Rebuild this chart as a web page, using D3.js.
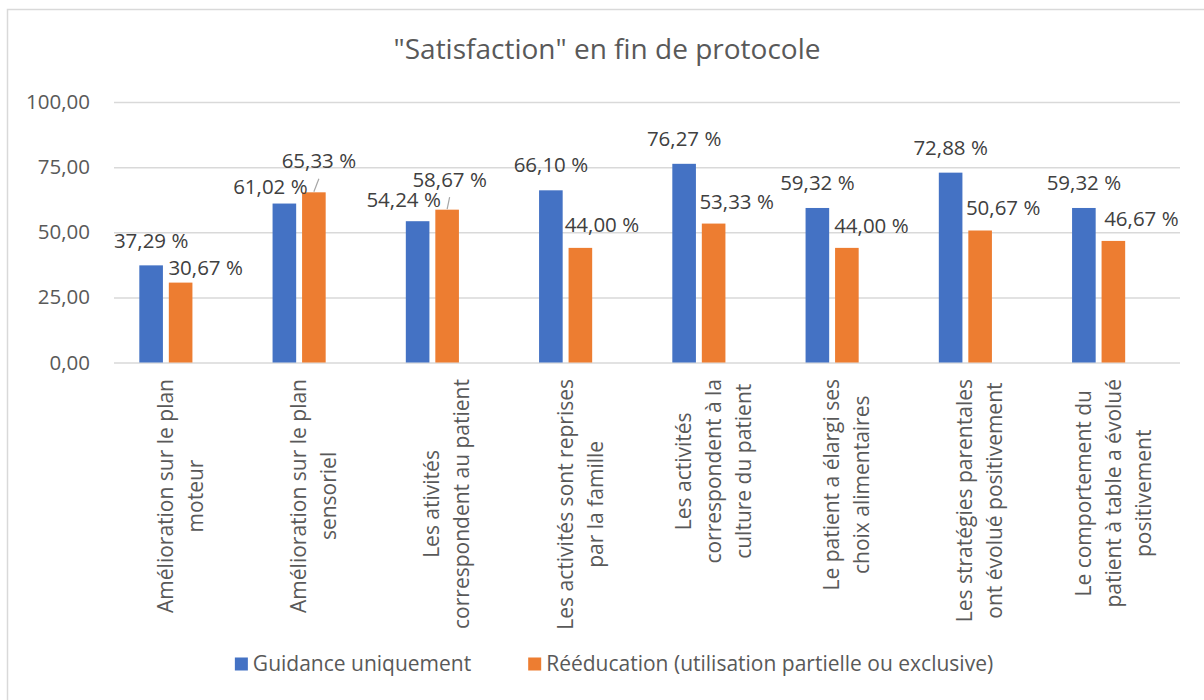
<!DOCTYPE html>
<html>
<head>
<meta charset="utf-8">
<script src="https://cdn.jsdelivr.net/npm/d3@7"></script>
<style>
  body { margin: 0; background: #fff; }
  text { font-family: "Open Sans", "Noto Sans", sans-serif; }
</style>
</head>
<body>
<div class="chart"></div>
<script>
/** data */
const categories = [
  ["Amélioration sur le plan", "moteur"],
  ["Amélioration sur le plan", "sensoriel"],
  ["Les ativités", "correspondent au patient"],
  ["Les activités sont reprises", "par la famille"],
  ["Les activités", "correspondent à la", "culture du patient"],
  ["Le patient a élargi ses", "choix alimentaires"],
  ["Les stratégies parentales", "ont évolué positivement"],
  ["Le comportement du", "patient à table a évolué", "positivement"]
];
const guidance = [37.29, 61.02, 54.24, 66.10, 76.27, 59.32, 72.88, 59.32];
const reeducation = [30.67, 65.33, 58.67, 44.00, 53.33, 44.00, 50.67, 46.67];
const seriesNames = ["Guidance uniquement", "Rééducation (utilisation partielle ou exclusive)"];
const yTicks = [0, 25, 50, 75, 100];
const title = '"Satisfaction" en fin de protocole';

/** label nudges (layout only), as placed by hand in the original */
const guidLabelDx = [0, -14, -14, 0, 0, 0, 0, 0];
const guidLabelDy = [-25, -17, -21, -25, -25, -25, -25, -25];
const reedLabelDx = [25, 5, 2.5, 21.5, 23, 24.5, 23, 28];
const reedLabelDy = [-15, -31, -30, -23, -22, -22, -23, -22];
const reedLeader = [false, true, true, false, false, false, false, false];

const colors = ["#4472c4", "#ed7d31"];
const width = 1204, height = 700;

let svg = d3.select('.chart').append('svg')
    .attr('width', width)
    .attr('height', height);

/** chart frame */
svg.append('rect')
    .attr('x', 7.5).attr('y', 9.5)
    .attr('width', 1300).attr('height', 800)
    .attr('fill', 'none')
    .attr('stroke', '#d9d9d9')
    .attr('stroke-width', 1.5);

/** title */
svg.append('text')
    .attr('x', 607).attr('y', 49)
    .attr('dy', '0.35em')
    .attr('text-anchor', 'middle')
    .style('font-size', '28px')
    .attr('fill', '#595959')
    .text(title);

/** scales */
let idx = d3.range(categories.length);
let x0 = d3.scaleBand()
    .domain(idx)
    .range([114, 1180]);
let x1 = d3.scaleBand()
    .domain(['guid', 'reed', 'blank'])   // third series is empty in the source
    .range([0, x0.bandwidth()])
    .paddingInner(0.2)
    .paddingOuter(0.858);
let y = d3.scaleLinear()
    .domain([0, 100])
    .range([362.5, 102]);

let fr = d3.formatLocale({ decimal: ",", thousands: " ", grouping: [3], currency: ["", "€"] });
let fmtTick = fr.format(".2f");
let fmtLabel = v => fr.format(".2f")(v) + " %";

/** gridlines + y axis */
let yAxis = d3.axisLeft(y)
    .tickValues(yTicks)
    .tickSize(-(1180 - 114))
    .tickPadding(24)
    .tickFormat(fmtTick);

let gy = svg.append('g')
    .attr('transform', 'translate(114,0)')
    .call(yAxis);
gy.select('.domain').remove();
gy.selectAll('.tick line')
    .attr('stroke', '#d9d9d9')
    .attr('stroke-width', 1.5);
gy.selectAll('.tick text')
    .attr('fill', '#595959')
    .style('font-size', '20.5px')
    .style('font-family', '"Open Sans", sans-serif');

/** bars */
let groups = svg.append('g')
    .selectAll('.cat')
    .data(idx)
    .enter()
    .append('g')
    .attr('class', 'cat')
    .attr('transform', d => 'translate(' + x0(d) + ',0)');

groups.append('rect')
    .attr('x', x1('guid'))
    .attr('y', d => y(guidance[d]))
    .attr('width', x1.bandwidth())
    .attr('height', d => y(0) - y(guidance[d]))
    .attr('fill', colors[0]);

groups.append('rect')
    .attr('x', x1('reed'))
    .attr('y', d => y(reeducation[d]))
    .attr('width', x1.bandwidth())
    .attr('height', d => y(0) - y(reeducation[d]))
    .attr('fill', colors[1]);

/** leader lines */
groups.filter(d => reedLeader[d])
    .append('line')
    .attr('x1', d => x1('reed') + x1.bandwidth() / 2 + reedLabelDx[d])
    .attr('y1', d => y(reeducation[d]) + reedLabelDy[d] + 17.5)
    .attr('x2', x1('reed') + x1.bandwidth() / 2)
    .attr('y2', d => y(reeducation[d]) - 0.5)
    .attr('stroke', '#a6a6a6')
    .attr('stroke-width', 1.2);

/** data labels */
groups.append('text')
    .attr('x', d => x1('guid') + x1.bandwidth() / 2 + guidLabelDx[d])
    .attr('y', d => y(guidance[d]) + guidLabelDy[d])
    .attr('dy', '0.35em')
    .attr('text-anchor', 'middle')
    .style('font-size', '20.5px')
    .attr('fill', '#404040')
    .text(d => fmtLabel(guidance[d]));

groups.append('text')
    .attr('x', d => x1('reed') + x1.bandwidth() / 2 + reedLabelDx[d])
    .attr('y', d => y(reeducation[d]) + reedLabelDy[d])
    .attr('dy', '0.35em')
    .attr('text-anchor', 'middle')
    .style('font-size', '20.5px')
    .attr('fill', '#404040')
    .text(d => fmtLabel(reeducation[d]));

/** category labels, rotated, lines centred on the longest one */
let catLabels = svg.append('g')
    .selectAll('.catlabel')
    .data(idx)
    .enter()
    .append('g')
    .attr('class', 'catlabel')
    .attr('transform', d => 'translate(' + (x0(d) + x0.bandwidth() / 2) + ',379) rotate(-90)');

catLabels.each(function (d) {
    let g = d3.select(this);
    let lines = categories[d];
    let t = g.append('text')
        .attr('text-anchor', 'middle')
        .style('font-size', '21px')
        .attr('fill', '#595959');
    lines.forEach((ln, i) => {
        t.append('tspan')
            .attr('x', 0)
            .attr('y', (i - (lines.length - 1) / 2) * 30)
            .attr('dy', '0.35em')
            .text(ln);
    });
    let maxLen = d3.max(t.selectAll('tspan').nodes(), n => n.getComputedTextLength());
    t.selectAll('tspan').attr('x', -maxLen / 2);
});

/** legend */
let legend = svg.append('g');
let items = legend.selectAll('.leg')
    .data(seriesNames)
    .enter()
    .append('g')
    .attr('class', 'leg');
items.append('rect')
    .attr('width', 13).attr('height', 13)
    .attr('y', -6.5)
    .attr('fill', (d, i) => colors[i]);
items.append('text')
    .attr('x', 18)
    .attr('dy', '0.35em')
    .style('font-size', '21px')
    .attr('fill', '#595959')
    .text(d => d);

let offs = [], pos = 0;
items.each(function () {
    offs.push(pos);
    pos += this.getBBox().width + 57;
});
let legW = pos - 57;
items.attr('transform', (d, i) => 'translate(' + (offs[i]) + ',0)');
legend.attr('transform', 'translate(' + (614 - legW / 2) + ',664)');
</script>
</body>
</html>
